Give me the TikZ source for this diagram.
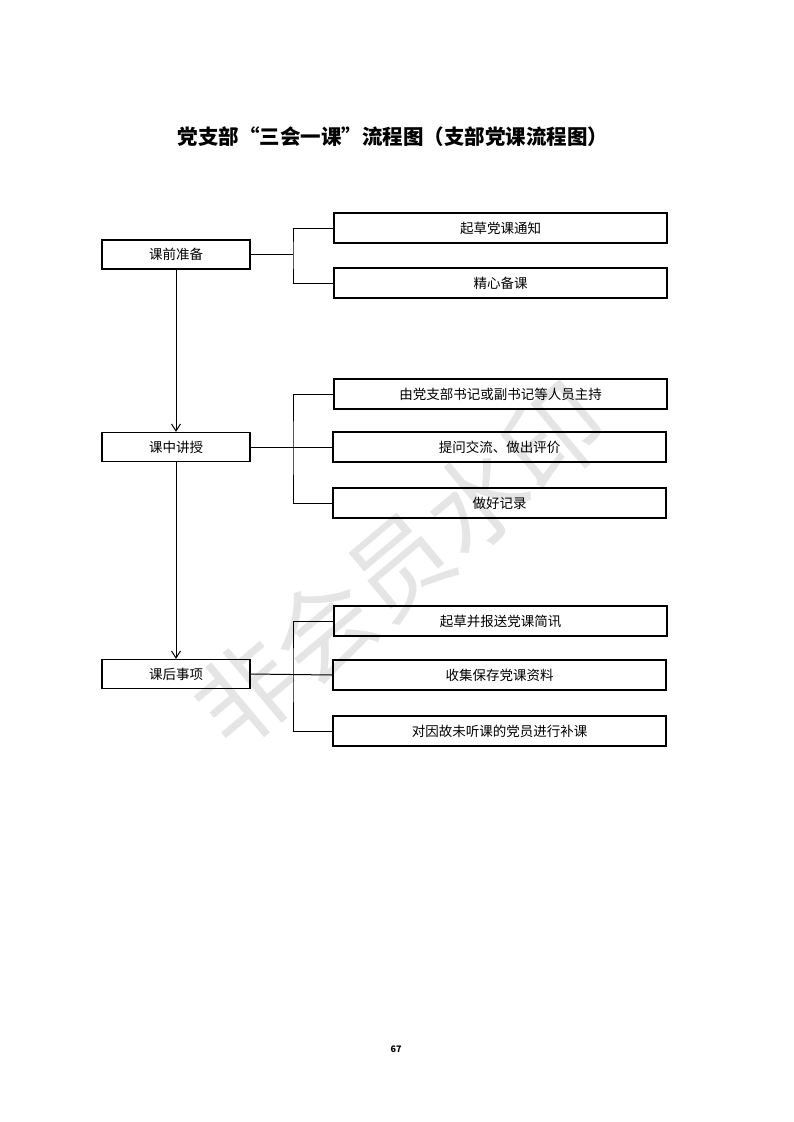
\documentclass[tikz,border=0pt]{standalone}
\usepackage{fontspec}
\setmainfont{Noto Sans CJK SC}
\newfontfamily\cjkbold[BoldFont={Noto Sans CJK SC Bold}]{Noto Sans CJK SC}
\usetikzlibrary{arrows.meta}
\begin{document}
\begin{tikzpicture}[x=1pt,y=-1pt,
  leftbox/.style={draw,line width=1.3pt,minimum width=148pt,minimum height=29pt,inner sep=0pt,font=\fontsize{13.5}{15}\selectfont},
  rightbox/.style={draw,line width=1.2pt,minimum width=333pt,minimum height=30pt,inner sep=0pt,font=\fontsize{13.5}{15}\selectfont},
  conn/.style={line width=1pt},
  flow/.style={line width=1pt,-{Straight Barb[length=7pt,width=9pt,line width=1pt]}}]
\useasboundingbox (0,0) rectangle (793,1122);
\fill[white] (0,0) rectangle (793,1122);
% watermark
\node[text=black!10,rotate=40,font=\fontsize{100}{100}\selectfont] (wm) at (400,565) {非会员水印};
% title
\node[font=\fontsize{20.5}{24}\selectfont\bfseries] (title) at (393,137) {党支部“三会一课”流程图（支部党课流程图）};
% left boxes
\node[leftbox] (L1) at (176,254.5) {课前准备};
\node[leftbox] (L2) at (176,447) {课中讲授};
\node[leftbox] (L3) at (176,674) {课后事项};
% right boxes
\node[rightbox] (R1) at (500.5,228) {起草党课通知};
\node[rightbox] (R2) at (500.5,283) {精心备课};
\node[rightbox] (R3) at (500.5,394) {由党支部书记或副书记等人员主持};
\node[rightbox] (R4) at (499.5,447) {提问交流、做出评价};
\node[rightbox] (R5) at (499.5,503) {做好记录};
\node[rightbox] (R6) at (500.5,621) {起草并报送党课简讯};
\node[rightbox] (R7) at (499.5,675) {收集保存党课资料};
\node[rightbox] (R8) at (499.5,731) {对因故未听课的党员进行补课};
% branch junctions
\coordinate (J1) at (293,254.5);
\coordinate (J2) at (293,447);
\coordinate (J3) at (293,674);
% group 1
\draw[conn] (L1.east) -- (J1);
\draw[conn] (R1.west) -| (J1) |- (R2.west);
% group 2
\draw[conn] (L2.east) -- (R4.west);
\draw[conn] (R3.west) -| (J2) |- (R5.west);
% group 3
\draw[conn] (L3.east) -- (R7.west);
\draw[conn] (R6.west) -| (J3) |- (R8.west);
% main flow
\draw[flow] (L1.south) -- (L2.north);
\draw[flow] (L2.south) -- (L3.north);
% page number
\node[font=\fontsize{9}{10}\selectfont\bfseries] (pg) at (396,1049) {67};
\end{tikzpicture}
\end{document}
